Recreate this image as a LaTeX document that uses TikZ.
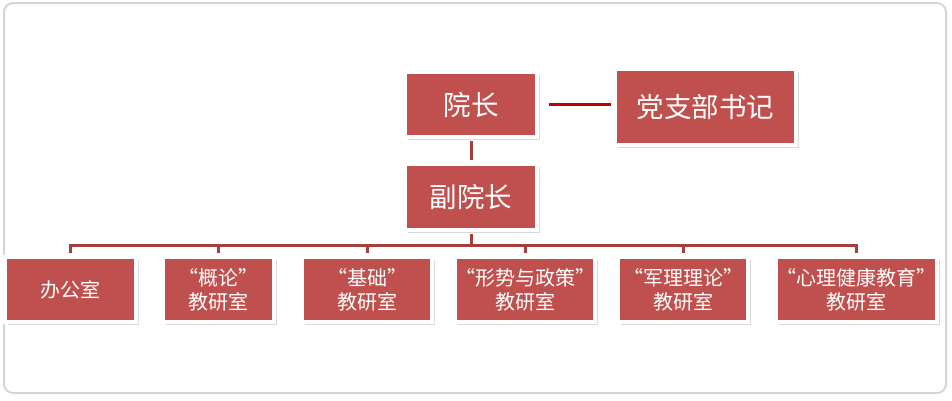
\documentclass[tikz,border=0pt]{standalone}
\usepackage{fontspec}
\newfontfamily\cjk{Noto Sans CJK SC}
\usetikzlibrary{shadows}

\definecolor{boxred}{RGB}{192,80,77}
\definecolor{linkred}{RGB}{165,62,60}
\definecolor{partyred}{RGB}{192,0,0}
\definecolor{framegray}{RGB}{214,214,214}

% full-width quote marks
\newcommand\openq{\makebox[1em][r]{“}}
\newcommand\closeq{\makebox[1em][l]{”}}

\tikzset{
  unit/.style={fill=boxred, draw=white, line width=4pt, text=white, inner sep=0pt, align=center,
    drop shadow={shadow xshift=2.5pt, shadow yshift=-2.5pt, opacity=0.3}},
  lead/.style={unit, font=\cjk\fontsize{27.5}{30}\selectfont},
  dept/.style={unit, minimum height=65pt, font=\cjk\fontsize{20}{24}\selectfont},
  link/.style={draw=linkred, line width=3pt},
}

\begin{document}
\begin{tikzpicture}[x=1pt,y=1pt,yscale=-1,xscale=1]
\useasboundingbox (0,0) rectangle (952,400);

%Frame of the canvas
\draw [framegray, line width=2pt, rounded corners=9pt] (4,3) rectangle (946,393);

%Boxes: leaders
\node [lead, minimum width=132pt, minimum height=65pt] (yuanzhang) at (471,104.5) {院长};
\node [lead, minimum width=181pt, minimum height=76pt] (dangzhibu) at (705.5,107) {党支部书记};
\node [lead, minimum width=132pt, minimum height=66pt] (fuyuanzhang) at (471,197) {副院长};

%Boxes: offices
\node [dept, minimum width=131pt] (office)  at (70.5,289.5) {办公室};
\node [dept, minimum width=111pt] (gailun)  at (218.5,289.5) {\openq 概论\closeq\\教研室};
\node [dept, minimum width=130pt] (jichu)   at (367,289.5) {\openq 基础\closeq\\教研室};
\node [dept, minimum width=130pt] (xingshi) at (525,289.5) {\openq 形势与政策\closeq\\教研室};
\node [dept, minimum width=130pt] (junli)   at (683,289.5) {\openq 军理理论\closeq\\教研室};
\node [dept, minimum width=161pt] (xinli)   at (856.5,289.5) {\openq 心理健康教育\closeq\\教研室};

%Connectors
\draw [partyred, line width=3pt, shorten >=2pt] ([xshift=10pt]yuanzhang.east) -- (yuanzhang.east -| dangzhibu.west);
\draw [link, shorten <=2pt, shorten >=2pt] (yuanzhang.south) -- (fuyuanzhang.north);
\foreach \d in {office,gailun,jichu,xingshi,junli,xinli}
  \draw [link, shorten <=2pt, shorten >=2pt] (fuyuanzhang.south) -- ++(0,13) -| (\d.north);

\end{tikzpicture}
\end{document}
